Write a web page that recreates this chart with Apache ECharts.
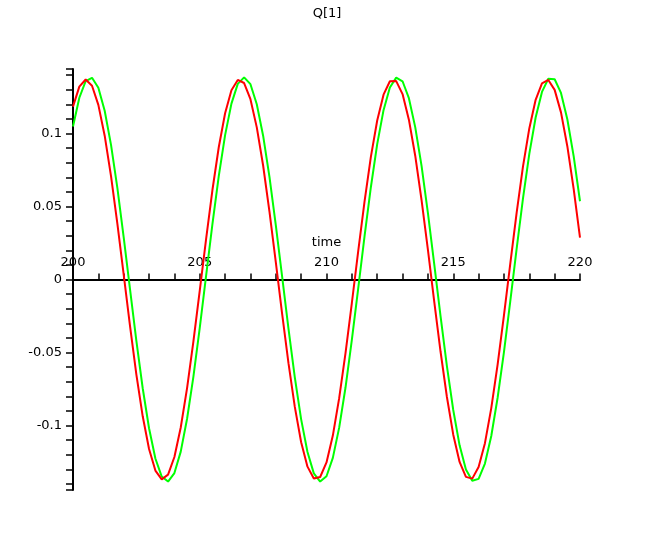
<!DOCTYPE html>
<html>
<head>
<meta charset="utf-8">
<script src="https://cdn.jsdelivr.net/npm/echarts@6/dist/echarts.min.js"></script>
<style>html,body{margin:0;padding:0;background:#fff}#c{width:654px;height:545px}</style>
</head>
<body>
<div id="c"></div>
<script>
// sample times: 200 to 220 every 0.25
var tStart = 200, tStep = 0.25;
var redValues = [
0.1184,0.1321,0.1370,0.1327,0.1196,0.0985,0.0708,0.0383,0.0033,-0.0319,
-0.0651,-0.0937,-0.1161,-0.1309,-0.1369,-0.1337,-0.1216,-0.1014,-0.0744,-0.0424,
-0.0076,0.0277,0.0613,0.0906,0.1139,0.1296,0.1367,0.1346,0.1235,0.1042,
0.0781,0.0465,0.0119,-0.0235,-0.0573,-0.0873,-0.1115,-0.1282,-0.1363,-0.1353,
-0.1253,-0.1069,-0.0813,-0.0504,-0.0161,0.0193,0.0534,0.0840,0.1089,0.1266,
0.1358,0.1359,0.1270,0.1095,0.0848,0.0544,0.0204,-0.0151,-0.0495,-0.0805,
-0.1063,-0.1250,-0.1352,-0.1364,-0.1285,-0.1121,-0.0881,-0.0583,-0.0246,0.0108,
0.0456,0.0773,0.1035,0.1231,0.1344,0.1367,0.1299,0.1145,0.0913,0.0621,
0.0287
];
var greenValues = [
0.1048,0.1245,0.1359,0.1382,0.1313,0.1156,0.0922,0.0627,0.0289,-0.0068,
-0.0420,-0.0745,-0.1019,-0.1226,-0.1350,-0.1384,-0.1326,-0.1179,-0.0954,-0.0665,
-0.0331,0.0025,0.0379,0.0708,0.0989,0.1205,0.1340,0.1385,0.1338,0.1201,
0.0985,0.0703,0.0373,0.0019,-0.0337,-0.0671,-0.0958,-0.1182,-0.1328,-0.1384,
-0.1348,-0.1222,-0.1015,-0.0740,-0.0414,-0.0062,0.0295,0.0632,0.0927,0.1160,
0.1315,0.1383,0.1358,0.1242,0.1044,0.0778,0.0456,0.0105,-0.0252,-0.0593,
-0.0894,-0.1136,-0.1301,-0.1379,-0.1366,-0.1261,-0.1072,-0.0810,-0.0497,-0.0148,
0.0210,0.0554,0.0861,0.1110,0.1285,0.1375,0.1372,0.1278,0.1098,0.0845,
0.0536
];
var xLabelValues = [200, 205, 210, 215, 220];
var yLabelValues = [-0.1, -0.05, 0, 0.05, 0.1];
var yTickValues = [-0.1442,-0.14,-0.13,-0.12,-0.11,-0.1,-0.09,-0.08,-0.07,-0.06,-0.05,-0.04,-0.03,-0.02,-0.01,0,
  0.01,0.02,0.03,0.04,0.05,0.06,0.07,0.08,0.09,0.1,0.11,0.12,0.13,0.14,0.1442];
var yMin = -0.1442, yMax = 0.1442;

function pairs(vals){ return vals.map(function(v,i){ return [tStart + i*tStep, v]; }); }

var font = 'DejaVu Sans, Verdana, sans-serif';
var chart = echarts.init(document.getElementById('c'), null, {renderer:'canvas'});
chart.setOption({
  animation: false,
  backgroundColor: '#fff',
  title: { text: 'Q[1]', left: 'center', top: 2, textStyle: { fontFamily: font, fontSize: 13, fontWeight: 'normal', color: '#000' } },
  grid: { left: 73, right: 74, top: 69, bottom: 55, containLabel: false },
  xAxis: {
    type: 'value', min: 200, max: 220, interval: 1,
    name: 'time', nameLocation: 'middle', nameGap: -254,
    nameTextStyle: { fontFamily: font, fontSize: 13, color: '#000' },
    axisLine: { show: true, onZero: true, lineStyle: { color: '#000', width: 2 } },
    axisTick: { show: true, inside: true, length: 6, lineStyle: { color: '#000', width: 1.5 } },
    axisLabel: { inside: true, margin: 221, customValues: xLabelValues, fontFamily: font, fontSize: 13, color: '#000' },
    splitLine: { show: false }
  },
  yAxis: {
    type: 'value', min: yMin, max: yMax,
    axisLine: { show: true, onZero: false, lineStyle: { color: '#000', width: 2 } },
    axisTick: { show: true, length: 7, customValues: yTickValues, lineStyle: { color: '#000', width: 1.5 } },
    axisLabel: { margin: 11, customValues: yLabelValues, fontFamily: font, fontSize: 13, color: '#000',
      formatter: function(v){ return String(+v.toFixed(2)); } },
    splitLine: { show: false }
  },
  series: [
    { type: 'line', data: pairs(redValues), showSymbol: false, lineStyle: { color: '#ff0000', width: 2 }, z: 3 },
    { type: 'line', data: pairs(greenValues), showSymbol: false, lineStyle: { color: '#00ff00', width: 2 }, z: 2 }
  ]
});
</script>
</body>
</html>
